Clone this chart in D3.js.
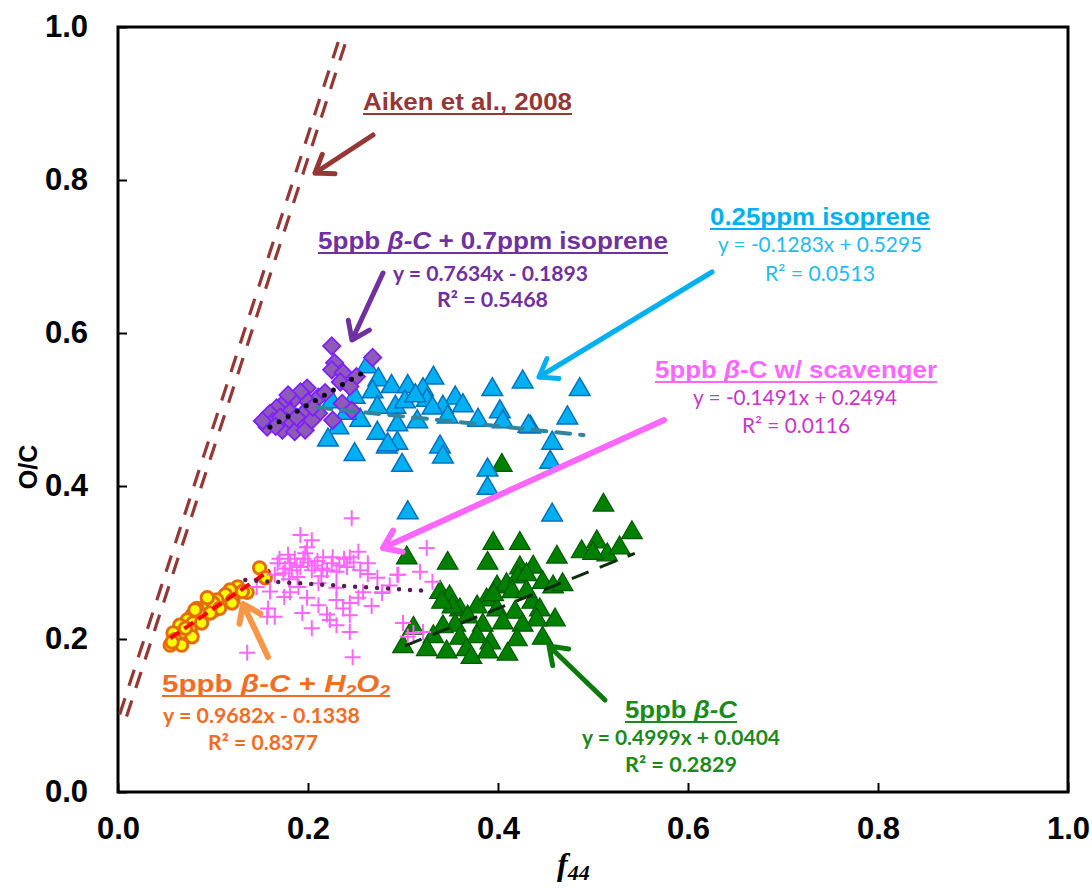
<!DOCTYPE html>
<html>
<head>
<meta charset="utf-8">
<script src="https://cdn.jsdelivr.net/npm/d3@7"></script>
<style>
  body { margin: 0; background: #fff; }
  .tick text { font-family: "Liberation Sans", Arial, sans-serif; font-weight: bold; font-size: 31px; fill: #000; }
</style>
</head>
<body>
<div id="chart"></div>
<script>
// ---- data (f44, O/C) ----
var xTicks = [0, 0.2, 0.4, 0.6, 0.8, 1.0];
var yTicks = [0, 0.2, 0.4, 0.6, 0.8, 1.0];

var isopreneMix = [[0.225,0.583],[0.268,0.568],[0.228,0.561],[0.225,0.552],[0.237,0.548],[0.251,0.543],[0.234,0.536],[0.244,0.530],
  [0.199,0.528],[0.192,0.523],[0.211,0.516],[0.184,0.512],[0.174,0.508],[0.200,0.510],[0.236,0.508],[0.246,0.499],[0.167,0.502],
  [0.181,0.497],[0.195,0.495],[0.211,0.495],[0.160,0.495],[0.226,0.486],[0.163,0.484],[0.178,0.484],[0.194,0.482],[0.157,0.477],
  [0.173,0.473],[0.186,0.471],[0.197,0.473],[0.204,0.486],[0.188,0.490],[0.205,0.503],[0.218,0.522],[0.179,0.519],[0.171,0.490],
  [0.152,0.485],[0.166,0.478]];

var isoprene = [[0.262,0.556],[0.274,0.539],[0.288,0.530],[0.305,0.530],[0.332,0.541],[0.321,0.526],[0.394,0.526],[0.426,0.536],
  [0.486,0.526],[0.355,0.515],[0.268,0.523],[0.249,0.516],[0.292,0.503],[0.302,0.510],[0.325,0.512],[0.342,0.503],[0.331,0.502],
  [0.273,0.503],[0.225,0.510],[0.379,0.486],[0.402,0.497],[0.405,0.484],[0.473,0.489],[0.434,0.477],[0.347,0.490],[0.315,0.484],
  [0.294,0.480],[0.273,0.469],[0.255,0.486],[0.232,0.476],[0.221,0.460],[0.249,0.441],[0.283,0.451],[0.294,0.456],[0.339,0.451],
  [0.342,0.438],[0.299,0.427],[0.457,0.456],[0.455,0.431],[0.389,0.421],[0.284,0.454],[0.389,0.397],[0.305,0.365],[0.457,0.362],
  [0.432,0.478],[0.240,0.495],[0.313,0.518],[0.363,0.505]];

var betaC = [[0.404,0.427],[0.511,0.375],[0.541,0.339],[0.504,0.327],[0.488,0.314],[0.515,0.310],[0.528,0.319],[0.500,0.312],
  [0.395,0.325],[0.423,0.325],[0.462,0.307],[0.304,0.306],[0.347,0.299],[0.389,0.299],[0.423,0.293],[0.437,0.294],[0.447,0.274],
  [0.458,0.268],[0.468,0.271],[0.339,0.261],[0.349,0.255],[0.399,0.268],[0.409,0.271],[0.421,0.281],[0.430,0.284],[0.388,0.251],
  [0.378,0.242],[0.360,0.238],[0.368,0.229],[0.399,0.238],[0.418,0.235],[0.436,0.248],[0.444,0.238],[0.460,0.225],[0.441,0.225],
  [0.426,0.218],[0.405,0.221],[0.384,0.218],[0.355,0.218],[0.342,0.216],[0.332,0.203],[0.360,0.201],[0.378,0.203],[0.392,0.195],
  [0.420,0.199],[0.447,0.201],[0.311,0.214],[0.300,0.190],[0.325,0.186],[0.346,0.183],[0.367,0.186],[0.389,0.183],[0.352,0.242],
  [0.341,0.248],[0.410,0.180],[0.372,0.176],[0.415,0.262],[0.395,0.258],[0.430,0.262]];

var scavenger = [[0.246,0.358],[0.192,0.336],[0.204,0.329],[0.199,0.320],[0.325,0.319],[0.179,0.310],[0.216,0.307],[0.244,0.307],
  [0.253,0.314],[0.263,0.299],[0.168,0.299],[0.181,0.299],[0.192,0.294],[0.204,0.290],[0.225,0.299],[0.230,0.288],[0.241,0.294],
  [0.255,0.290],[0.174,0.286],[0.189,0.281],[0.165,0.284],[0.294,0.284],[0.318,0.288],[0.273,0.280],[0.331,0.275],[0.211,0.273],
  [0.146,0.268],[0.230,0.267],[0.181,0.261],[0.258,0.261],[0.278,0.261],[0.199,0.254],[0.230,0.251],[0.244,0.247],[0.253,0.254],
  [0.211,0.244],[0.237,0.240],[0.158,0.240],[0.165,0.229],[0.157,0.229],[0.194,0.234],[0.244,0.231],[0.223,0.225],[0.230,0.218],
  [0.204,0.214],[0.244,0.209],[0.300,0.221],[0.311,0.208],[0.321,0.209],[0.136,0.182],[0.247,0.176],[0.295,0.284],[0.278,0.260],
  [0.305,0.203],[0.186,0.305],[0.197,0.312],[0.210,0.302],[0.176,0.292],[0.200,0.300],[0.215,0.292],[0.238,0.305],
  [0.170,0.305],[0.183,0.290],[0.195,0.305],[0.207,0.296],[0.220,0.290],[0.226,0.307],[0.233,0.296],[0.248,0.300],[0.188,0.296],
  [0.214,0.282],[0.180,0.278],[0.263,0.285],[0.286,0.270],[0.267,0.243],[0.220,0.232],[0.190,0.268],[0.160,0.262],[0.175,0.255]];

var h2o2 = [[0.149,0.293],[0.155,0.280],[0.136,0.261],[0.126,0.268],[0.118,0.264],[0.113,0.258],[0.121,0.251],[0.104,0.251],
  [0.095,0.251],[0.092,0.242],[0.102,0.238],[0.083,0.240],[0.078,0.231],[0.088,0.231],[0.073,0.225],[0.079,0.221],[0.065,0.218],
  [0.068,0.209],[0.058,0.208],[0.060,0.199],[0.067,0.192],[0.055,0.192],[0.076,0.212],[0.088,0.221],[0.120,0.247],[0.100,0.247],
  [0.094,0.254],[0.081,0.238],[0.107,0.240],[0.057,0.196],[0.078,0.203],[0.131,0.262],[0.097,0.234],[0.071,0.214]];

// trend line end points, as drawn
var trendIsopreneMix = [[0.160,0.477],[0.263,0.552]];
var trendIsoprene = [[0.21,0.5026],[0.49,0.4666]];
var trendScavenger = [[0.134,0.277],[0.323,0.263]];
var trendH2o2 = [[0.055,0.201],[0.160,0.290]];
var trendBetaC = [[0.302,0.191],[0.544,0.312]];
var aikenLine = [[0.0054,0.100],[0.237,0.985]];

var margin = {top: 27, right: 24, bottom: 96, left: 118},
    width = 1092 - margin.left - margin.right,
    height = 888 - margin.top - margin.bottom;

var svg = d3.select("#chart").append("svg")
    .attr("width", 1092)
    .attr("height", 888);

var g = svg.append("g").attr("transform", "translate(" + margin.left + "," + margin.top + ")");

var x = d3.scaleLinear().domain([0, 1]).range([0, width]);
var y = d3.scaleLinear().domain([0, 1]).range([height, 0]);

/* axes */
g.append("g")
    .attr("transform", "translate(0," + height + ")")
    .call(d3.axisBottom(x).tickValues(xTicks).tickFormat(d3.format(".1f")).tickSizeInner(-9).tickSizeOuter(0).tickPadding(25));
g.append("g")
    .call(d3.axisLeft(y).tickValues(yTicks).tickFormat(d3.format(".1f")).tickSizeInner(-9).tickSizeOuter(0).tickPadding(30));
g.selectAll(".tick line").attr("stroke", "#000").attr("stroke-width", 2);
g.selectAll(".domain").attr("stroke", "none");

g.append("rect")
    .attr("width", width).attr("height", height)
    .attr("fill", "none").attr("stroke", "#000").attr("stroke-width", 3);

/* axis titles */
svg.append("text")
    .attr("transform", "translate(37,467) rotate(-90)")
    .attr("text-anchor", "middle")
    .style("font-family", "Liberation Sans, Arial, sans-serif").style("font-weight", "bold").style("font-size", "25px")
    .text("O/C");
var xt = svg.append("text")
    .attr("x", 557).attr("y", 875)
    .style("font-family", "Liberation Serif, Times New Roman, serif").style("font-style", "italic").style("font-weight", "bold");
xt.append("tspan").style("font-size", "32px").text("f");
xt.append("tspan").attr("dy", 5).style("font-size", "22px").text("44");

/* Aiken line (double dashed) */
function drawLine(pts, color, w, dash, off) {
    var x1 = x(pts[0][0]), y1 = y(pts[0][1]), x2 = x(pts[1][0]), y2 = y(pts[1][1]);
    var len = Math.hypot(x2 - x1, y2 - y1), nx = -(y2 - y1) / len * (off || 0), ny = (x2 - x1) / len * (off || 0);
    return g.append("line")
        .attr("x1", x1 + nx).attr("y1", y1 + ny).attr("x2", x2 + nx).attr("y2", y2 + ny)
        .attr("stroke", color).attr("stroke-width", w)
        .attr("stroke-dasharray", dash);
}
drawLine(aikenLine, "#953735", 3.2, "17,13", -3.6);
drawLine(aikenLine, "#953735", 3.2, "17,13", 3.6);

/* markers */
var tri = d3.symbol().type(d3.symbolTriangle).size(185);
var dia = d3.symbol().type(d3.symbolSquare).size(150);

g.append("g").selectAll("path").data(betaC).enter().append("path")
    .attr("d", tri)
    .attr("transform", function(d) { return "translate(" + x(d[0]) + "," + y(d[1]) + ")"; })
    .attr("fill", "#008000").attr("stroke", "#005a00").attr("stroke-width", 1.2);

g.append("g").selectAll("path").data(isoprene).enter().append("path")
    .attr("d", tri)
    .attr("transform", function(d) { return "translate(" + x(d[0]) + "," + y(d[1]) + ")"; })
    .attr("fill", "#00b0f0").attr("stroke", "#0070c0").attr("stroke-width", 1.5);

g.append("g").selectAll("circle").data(h2o2).enter().append("circle")
    .attr("cx", function(d) { return x(d[0]); })
    .attr("cy", function(d) { return y(d[1]); })
    .attr("r", 6.2)
    .attr("fill", "#ffff00").attr("stroke", "#e46c0a").attr("stroke-width", 3);

g.append("g").selectAll("path").data(isopreneMix).enter().append("path")
    .attr("d", dia)
    .attr("transform", function(d) { return "translate(" + x(d[0]) + "," + y(d[1]) + ") rotate(45)"; })
    .attr("fill", "#8e5ab8").attr("stroke", "#7f1fff").attr("stroke-width", 1.8);

g.append("g").selectAll("path").data(scavenger).enter().append("path")
    .attr("d", function(d) { var cx = x(d[0]), cy = y(d[1]);
        return "M" + (cx - 8) + "," + cy + "H" + (cx + 8) + "M" + cx + "," + (cy - 8) + "V" + (cy + 8); })
    .attr("fill", "none").attr("stroke", "#ff66ff").attr("stroke-width", 2);

/* trend lines */
drawLine(trendIsoprene, "#31859c", 4, "14,10").attr("stroke-linecap", "round");
drawLine(trendBetaC, "#0f2a0f", 3, "18,12");
drawLine(trendH2o2, "#ff0000", 4, "11,6");
drawLine(trendScavenger, "#5a1a5a", 4.5, "0,11").attr("stroke-linecap", "round");
drawLine(trendIsopreneMix, "#000", 5, "0,10.5").attr("stroke-linecap", "round");

/* arrows */
function arrow(tail, tip, color, w) {
    var a = Math.atan2(tail[1] - tip[1], tail[0] - tip[0]), L = 20, s = 0.62;
    var p = "M" + tail[0] + "," + tail[1] + "L" + tip[0] + "," + tip[1] +
        "M" + (tip[0] + L * Math.cos(a + s)) + "," + (tip[1] + L * Math.sin(a + s)) + "L" + tip[0] + "," + tip[1] +
        "L" + (tip[0] + L * Math.cos(a - s)) + "," + (tip[1] + L * Math.sin(a - s));
    svg.append("path").attr("d", p).attr("fill", "none").attr("stroke", color)
        .attr("stroke-width", w).attr("stroke-linecap", "round").attr("stroke-linejoin", "round");
}
arrow([373,135], [315,173], "#953735", 5);
arrow([383,273], [352,340], "#7030a0", 5);
arrow([712,272], [539,377], "#00b0f0", 5);
arrow([664,420], [383,548], "#ff66ff", 6);
arrow([268,657], [243,604], "#f79646", 6);
arrow([605,700], [549,646], "#0a7a0a", 5);

/* labels */
function label(parts, left, base, w, color, opts) {
    var t = svg.append("text")
        .attr("x", left).attr("y", base)
        .attr("textLength", w).attr("lengthAdjust", "spacingAndGlyphs")
        .style("font-family", opts.font).style("font-weight", opts.weight).style("font-size", opts.size + "px")
        .attr("fill", color);
    parts.forEach(function(p) {
        if (typeof p === "string") { t.append("tspan").text(p); return; }
        var s = t.append("tspan").text(p.t);
        if (p.i) s.style("font-style", "italic");
        if (p.sub) s.attr("dy", 5).style("font-size", (opts.size * 0.65) + "px");
        if (p.up) s.attr("dy", -5);
    });
    if (opts.underline) {
        svg.append("line").attr("x1", left).attr("x2", left + w)
            .attr("y1", base + 4).attr("y2", base + 4)
            .attr("stroke", color).attr("stroke-width", 2);
    }
}
var titleFont = {font: "Liberation Sans, Arial, sans-serif", weight: "bold", size: 24, underline: true};
var eqBold = {font: "Lato, Calibri, sans-serif", weight: "bold", size: 21};
var eqReg = {font: "Lato, Calibri, sans-serif", weight: "normal", size: 21};

label(["Aiken et al., 2008"], 363, 110, 209, "#953735", titleFont);

label(["5ppb ", {t: "\u03b2-C", i: true}, " + 0.7ppm isoprene"], 318, 249, 350, "#7030a0", titleFont);
label(["y = 0.7634x - 0.1893"], 393, 281, 195, "#7030a0", eqBold);
label(["R\u00b2 = 0.5468"], 437, 307, 111, "#7030a0", eqBold);

label(["0.25ppm isoprene"], 710, 225, 220, "#00b0f0", titleFont);
label(["y = -0.1283x + 0.5295"], 718, 252, 204, "#22baf0", eqReg);
label(["R\u00b2 = 0.0513"], 765, 281, 110, "#22baf0", eqReg);

label(["5ppb ", {t: "\u03b2", i: true}, "-C w/ scavenger"], 655, 378, 282, "#ff66ff", titleFont);
label(["y = -0.1491x + 0.2494"], 693, 405, 204, "#cc33cc", eqReg);
label(["R\u00b2 = 0.0116"], 742, 433, 108, "#cc33cc", eqReg);

label(["5ppb ", {t: "\u03b2-C", i: true}, " + ", {t: "H", i: true}, {t: "2", i: true, sub: true}, {t: "O", i: true, up: true}, {t: "2", i: true, sub: true}],
    162, 692, 228, "#f36c21", titleFont);
label(["y = 0.9682x - 0.1338"], 163, 723, 197, "#f36c21", eqBold);
label(["R\u00b2 = 0.8377"], 208, 750, 110, "#f36c21", eqBold);

label(["5ppb ", {t: "\u03b2-C", i: true}], 625, 718, 112, "#1a8a1a", titleFont);
label(["y = 0.4999x + 0.0404"], 582, 745, 198, "#1a8a1a", eqBold);
label(["R\u00b2 = 0.2829"], 625, 772, 112, "#1a8a1a", eqBold);
</script>
</body>
</html>
